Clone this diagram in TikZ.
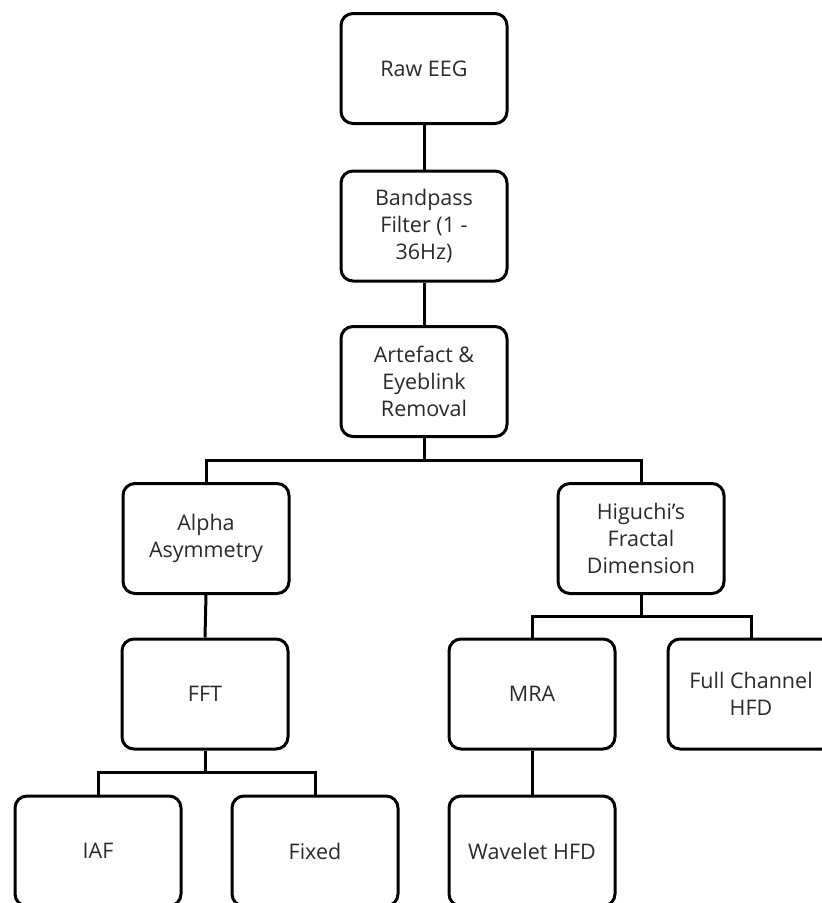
\documentclass[tikz,border=0pt]{standalone}
\usepackage{fontspec}
\setmainfont{Open Sans}
\usetikzlibrary{calc}
\definecolor{txt}{HTML}{2A2A2A}
\tikzset{
  box/.style={draw=black, line width=3pt, rounded corners=12pt, fill=white,
    minimum width=166pt, minimum height=110pt, align=center, inner sep=2pt,
    text=txt, font=\fontsize{21.5}{27}\selectfont},
  conn/.style={draw=black, line width=3pt}
}
\begin{document}
\begin{tikzpicture}[x=1pt,y=-1pt]
\useasboundingbox (0,0) rectangle (822,903);
\clip (0,0) rectangle (822,903);
\node[box] (raw)   at (424,68.5) {Raw EEG};
\node[box] (band)  at (424,226)  {Bandpass\\Filter (1 -\\36Hz)};
\node[box] (art)   at (424,381.5) {Artefact \&\\Eyeblink\\Removal};
\node[box] (alpha) at (206,538.5) {Alpha\\Asymmetry};
\node[box] (hig)   at (641,538.5) {Higuchi's\\Fractal\\Dimension};
\node[box] (fft)   at (205,694) {FFT};
\node[box] (mra)   at (532,694) {MRA};
\node[box] (full)  at (751,694) {Full Channel\\HFD};
\node[box] (iaf)   at (98,851) {IAF};
\node[box] (fixed) at (315,851) {Fixed};
\node[box] (wav)   at (532,851) {Wavelet HFD};
\draw[conn] (raw.south) -- (band.north);
\draw[conn] (band.south) -- (art.north);
\draw[conn] (art.south) -- ($(art.south)!.5!(art.south |- hig.north)$);
\draw[conn] (alpha.north) |- ($(art.south)!.5!(hig.north)$) -| (hig.north);
\draw[conn] (alpha.south) -- (fft.north);
\draw[conn] (hig.south) -- ($(hig.south)!.5!(hig.south |- mra.north)$);
\draw[conn] (mra.north) |- ($(hig.south)!.5!(full.north)$) -| (full.north);
\draw[conn] (fft.south) -- ($(fft.south)!.5!(fft.south |- iaf.north)$);
\draw[conn] (iaf.north) |- ($(fft.south)!.5!(fixed.north)$) -| (fixed.north);
\draw[conn] (mra.south) -- (wav.north);
\end{tikzpicture}
\end{document}
